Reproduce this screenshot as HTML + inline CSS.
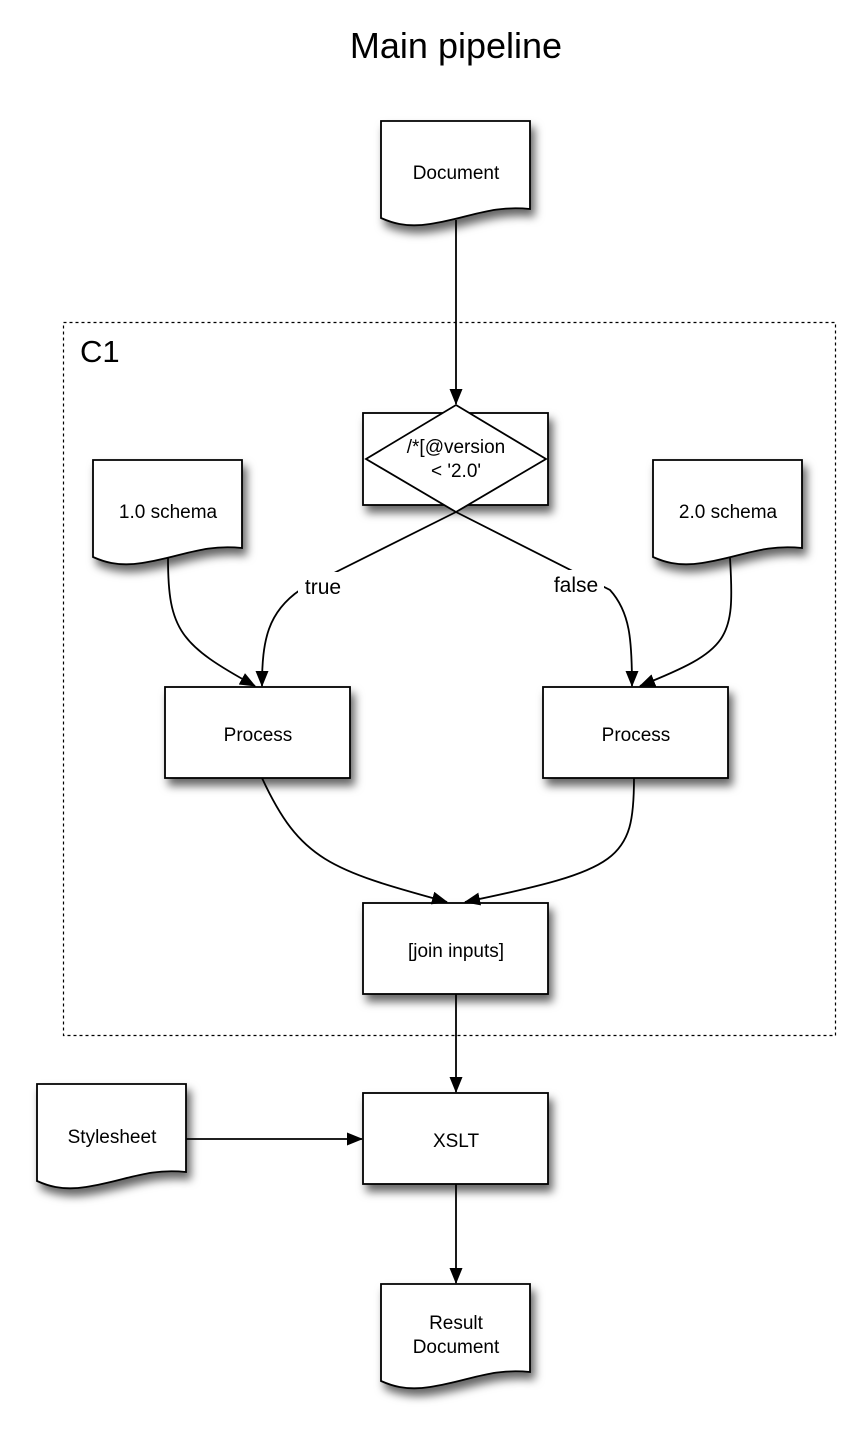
<!DOCTYPE html>
<html><head><meta charset="utf-8"><style>
html,body{margin:0;padding:0;background:#fff}
svg{display:block}
text{font-family:"Liberation Sans",sans-serif;fill:#000}
</style></head><body>
<svg width="858" height="1440" viewBox="0 0 858 1440" xmlns="http://www.w3.org/2000/svg">
<defs>
<filter id="sh" x="-20%" y="-20%" width="150%" height="160%">
<feDropShadow dx="4" dy="7" stdDeviation="4.5" flood-color="#000" flood-opacity="0.6"/>
</filter>
<marker id="ar" markerWidth="16" markerHeight="14" refX="15" refY="6.5" orient="auto" markerUnits="userSpaceOnUse">
<path d="M0,0 L16,6.5 L0,13 z" fill="#000"/>
</marker>
</defs>
<text x="456" y="58" font-size="36" text-anchor="middle">Main pipeline</text>

<rect x="63.5" y="322.5" width="772" height="713" fill="none" stroke="#000" stroke-width="1.2" stroke-dasharray="3,3"/>
<text x="80" y="362" font-size="31">C1</text>

<g fill="#fff" stroke="#000" stroke-width="1.8" filter="url(#sh)">
<path d="M381,121 H530 V209 C490,205 470,218 430,224 C405,228 390,222 381,218 Z"/>
<rect x="363" y="413" width="185" height="92"/>
<path d="M93,460 H242 V548 C202,544 182,557 142,563 C117,567 102,561 93,557 Z"/>
<path d="M653,460 H802 V548 C762,544 742,557 702,563 C677,567 662,561 653,557 Z"/>
<rect x="165" y="687" width="185" height="91"/>
<rect x="543" y="687" width="185" height="91"/>
<rect x="363" y="903" width="185" height="91"/>
<rect x="363" y="1093" width="185" height="91"/>
<path d="M37,1084 H186 V1172 C146,1168 126,1181 86,1187 C61,1191 46,1185 37,1181 Z"/>
<path d="M381,1284 H530 V1372 C490,1368 470,1381 430,1387 C405,1391 390,1385 381,1381 Z"/>
</g>
<path d="M456,405 L546,459 L456,512 L366,459 Z" fill="#fff" stroke="#000" stroke-width="1.8"/>

<g fill="none" stroke="#000" stroke-width="1.8" marker-end="url(#ar)">
<path d="M456,220 V404"/>
<path d="M456,512 L300,590 C268,612 262,640 262,686"/>
<path d="M456,512 L610,590 C630,612 632,640 632,686"/>
<path d="M168,558 C168,630 180,645 255,686"/>
<path d="M730,558 C735,640 730,650 640,686"/>
<path d="M262,778 C300,860 330,870 447,902"/>
<path d="M634,778 C634,860 620,870 465,902"/>
<path d="M456,994 V1092"/>
<path d="M186,1139 H362"/>
<path d="M456,1184 V1283"/>
</g>

<rect x="298" y="572" width="50" height="26" fill="#fff"/>
<text x="323" y="594" font-size="21" text-anchor="middle">true</text>
<rect x="548" y="570" width="56" height="26" fill="#fff"/>
<text x="576" y="592" font-size="21" text-anchor="middle">false</text>

<g font-size="19" text-anchor="middle">
<text x="456" y="179">Document</text>
<text x="456" y="453">/*[@version</text>
<text x="456" y="477">&lt; '2.0'</text>
<text x="168" y="518">1.0 schema</text>
<text x="728" y="518">2.0 schema</text>
<text x="258" y="741">Process</text>
<text x="636" y="741">Process</text>
<text x="456" y="957">[join inputs]</text>
<text x="456" y="1147">XSLT</text>
<text x="112" y="1143">Stylesheet</text>
<text x="456" y="1329">Result</text>
<text x="456" y="1353">Document</text>
</g>
</svg>
</body></html>
